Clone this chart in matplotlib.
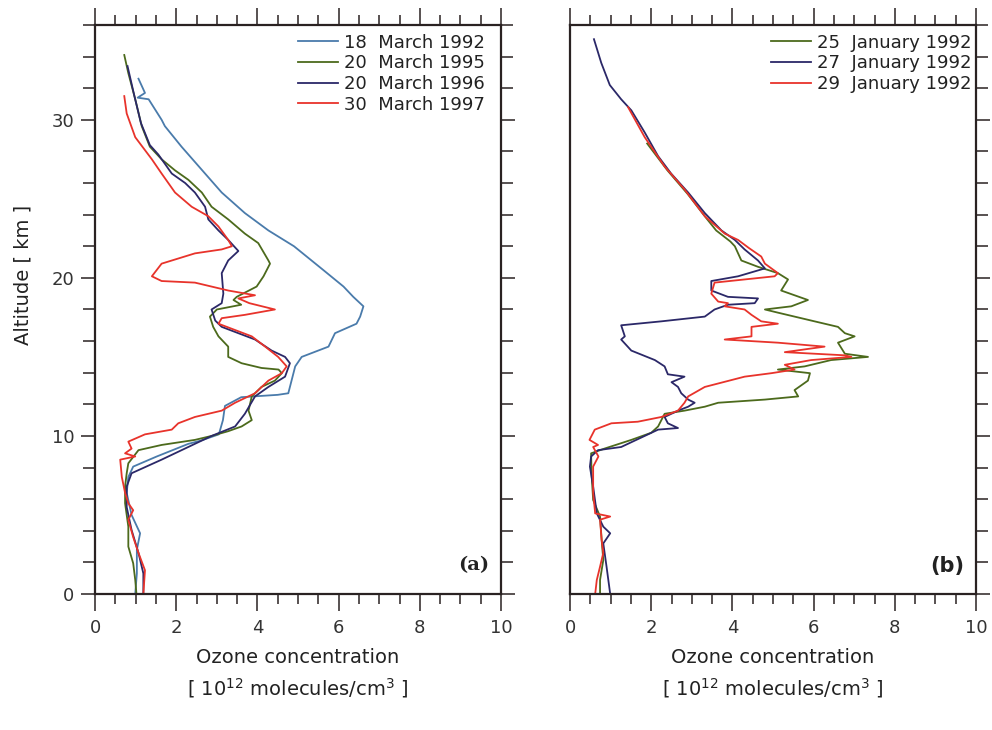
import matplotlib
matplotlib.use("Agg")
import matplotlib.pyplot as plt
from matplotlib.ticker import MultipleLocator

# Ozone profiles, panel (a): March soundings
mar92_o3 = [1.07, 1.23, 1.05, 1.32, 1.64, 1.72, 2.13, 2.71, 3.12, 3.69, 4.27, 4.90, 5.62,
            6.12, 6.36, 6.61, 6.53, 6.44, 5.91, 5.75, 5.09, 4.93, 4.84, 4.76, 4.50, 3.60,
            3.20, 3.15, 3.05, 2.60, 2.30, 1.52, 0.94, 0.82, 0.78, 0.90, 1.11, 1.03, 1.03, 0.99]
mar92_alt = [32.6, 31.7, 31.4, 31.3, 30.0, 29.6, 28.3, 26.6, 25.4, 24.1, 23.0, 22.0, 20.5,
             19.45, 18.8, 18.2, 17.55, 17.1, 16.5, 15.65, 15.0, 14.4, 13.5, 12.7, 12.6, 12.45,
             11.9, 11.0, 10.1, 9.7, 9.5, 8.7, 8.06, 7.4, 6.4, 5.0, 3.84, 2.8, 1.3, 0.0]

mar95_o3 = [0.72, 0.82, 0.99, 1.15, 1.35, 1.64, 1.97, 2.30, 2.63, 2.87, 3.28, 3.69, 4.02,
            4.27, 4.31, 4.15, 3.98, 3.49, 3.41, 3.60, 3.00, 2.83, 2.91, 3.04, 3.28, 3.28,
            3.61, 4.10, 4.52, 4.60, 4.43, 4.10, 3.86, 3.78, 3.86, 3.61, 3.28, 2.87, 2.46,
            1.64, 1.07, 0.82, 0.78, 0.74, 0.74, 0.82, 0.82, 0.94, 0.99, 1.02]
mar95_alt = [34.1, 32.95, 31.3, 29.6, 28.3, 27.5, 26.8, 26.2, 25.4, 24.5, 23.7, 22.8, 22.2,
             21.1, 20.9, 20.1, 19.45, 18.8, 18.6, 18.3, 18.0, 17.55, 16.9, 16.3, 15.65, 15.0,
             14.6, 14.3, 14.2, 13.97, 13.5, 13.1, 12.5, 11.6, 11.0, 10.6, 10.3, 10.0, 9.75,
             9.43, 9.1, 8.27, 7.64, 6.8, 5.74, 4.26, 3.0, 1.94, 0.89, 0.0]

mar96_o3 = [0.80, 0.97, 1.13, 1.35, 1.56, 1.89, 2.22, 2.46, 2.71, 2.79, 3.04, 3.28, 3.53,
            3.28, 3.12, 3.16, 3.12, 2.87, 2.96, 3.12, 3.53, 3.94, 4.35, 4.68, 4.80, 4.68,
            4.27, 3.94, 3.69, 3.45, 2.87, 2.46, 1.64, 0.90, 0.78, 0.78, 0.90, 1.07, 1.19, 1.19]
mar96_alt = [33.4, 31.5, 29.8, 28.4, 27.8, 26.6, 26.0, 25.4, 24.5, 23.7, 23.0, 22.4, 21.7,
             21.1, 20.3, 19.0, 18.4, 18.0, 17.3, 16.9, 16.5, 16.1, 15.4, 15.0, 14.6, 13.75,
             13.1, 12.5, 11.4, 10.6, 10.0, 9.5, 8.5, 7.64, 6.8, 5.5, 4.05, 2.6, 1.3, 0.0]

mar97_o3 = [0.72, 0.78, 0.99, 1.40, 1.64, 1.97, 2.38, 2.79, 3.04, 3.28, 3.37, 3.12, 2.46,
            1.64, 1.40, 1.64, 2.46, 3.28, 3.94, 3.53, 3.80, 4.43, 3.69, 3.12, 3.04, 3.45,
            3.86, 4.19, 4.51, 4.72, 4.60, 4.27, 3.94, 3.45, 3.12, 2.46, 2.05, 1.89, 1.23,
            0.82, 0.90, 0.74, 0.99, 0.62, 0.66, 0.74, 0.82, 0.94, 0.82, 0.94, 1.07, 1.23, 1.19]
mar97_alt = [31.5, 30.4, 28.9, 27.5, 26.6, 25.4, 24.5, 23.9, 23.25, 22.4, 22.0, 21.8, 21.55,
             20.9, 20.1, 19.8, 19.7, 19.2, 18.9, 18.7, 18.4, 18.0, 17.66, 17.45, 17.1, 16.7,
             16.3, 15.65, 15.0, 14.4, 13.97, 13.5, 12.7, 12.1, 11.6, 11.2, 10.8, 10.4, 10.1,
             9.64, 9.2, 8.9, 8.7, 8.5, 7.4, 6.4, 5.74, 5.3, 4.7, 3.6, 2.6, 1.5, 0.0]

# Ozone profiles, panel (b): January 1992 soundings
jan25_o3 = [1.90, 2.40, 2.90, 3.35, 3.60, 3.95, 4.06, 4.22, 4.63, 5.12, 5.37, 5.20, 5.86,
            5.45, 4.80, 5.12, 5.94, 6.60, 6.77, 7.01, 6.60, 6.77, 7.34, 6.43, 5.78, 5.12,
            5.91, 5.86, 5.53, 5.62, 4.80, 3.65, 3.32, 2.82, 2.33, 2.17, 2.00, 1.51, 0.85,
            0.52, 0.53, 0.57, 0.74, 0.78, 0.82, 0.74, 0.74]
jan25_alt = [28.5, 26.8, 25.3, 23.8, 23.0, 22.3, 22.0, 21.1, 20.7, 20.3, 19.9, 19.2, 18.6,
             18.2, 18.0, 17.8, 17.3, 16.9, 16.5, 16.3, 15.9, 15.2, 15.0, 14.8, 14.4, 14.2,
             13.97, 13.5, 12.9, 12.5, 12.3, 12.1, 11.85, 11.6, 11.4, 10.6, 10.2, 9.75, 9.2,
             8.9, 7.64, 5.95, 4.9, 3.4, 2.15, 0.89, 0.0]

jan27_o3 = [0.59, 0.77, 0.98, 1.26, 1.51, 1.84, 2.17, 2.49, 2.91, 3.32, 3.73, 4.06, 4.30,
            4.63, 4.80, 4.14, 3.48, 3.48, 3.89, 4.63, 4.55, 3.89, 3.56, 3.32, 2.25, 1.26,
            1.35, 1.26, 1.51, 2.09, 2.33, 2.41, 2.82, 2.50, 2.66, 2.74, 2.91, 3.07, 2.91,
            2.66, 2.33, 2.41, 2.66, 2.17, 1.84, 1.26, 0.69, 0.52, 0.49, 0.57, 0.66, 0.82,
            0.99, 0.82, 0.90, 0.99]
jan27_alt = [35.1, 33.6, 32.2, 31.3, 30.6, 29.2, 27.7, 26.6, 25.4, 24.1, 23.0, 22.4, 21.8,
             21.1, 20.6, 20.1, 19.8, 19.2, 18.8, 18.7, 18.4, 18.3, 18.0, 17.55, 17.25, 17.0,
             16.3, 16.1, 15.4, 14.8, 14.4, 13.9, 13.75, 13.4, 13.1, 12.7, 12.3, 12.1, 11.85,
             11.6, 11.2, 10.8, 10.5, 10.4, 10.0, 9.3, 9.1, 8.7, 8.06, 6.8, 5.1, 4.26,
             3.84, 3.2, 1.73, 0.0]

jan29_o3 = [1.43, 1.84, 2.33, 2.82, 3.32, 3.81, 4.14, 4.40, 4.71, 4.80, 5.12, 5.04, 4.30,
            3.56, 3.48, 3.65, 3.89, 3.81, 4.30, 4.47, 4.71, 5.12, 4.47, 4.47, 3.81, 5.12,
            6.27, 5.29, 6.77, 6.93, 5.94, 5.29, 5.53, 4.96, 4.30, 3.32, 2.91, 2.82, 2.66,
            2.25, 1.67, 1.02, 0.61, 0.48, 0.69, 0.57, 0.70, 0.57, 0.57, 0.62, 0.99, 0.74,
            0.78, 0.82, 0.74, 0.66, 0.62]
jan29_alt = [30.8, 28.9, 27.05, 25.6, 23.9, 22.8, 22.4, 21.9, 21.35, 20.9, 20.3, 20.1, 19.9,
             19.7, 19.0, 18.5, 18.4, 18.2, 18.0, 17.66, 17.25, 17.1, 16.9, 16.3, 16.1, 15.9,
             15.65, 15.3, 15.1, 15.0, 14.8, 14.5, 14.2, 13.97, 13.75, 13.1, 12.5, 12.1, 11.6,
             11.2, 10.9, 10.8, 10.4, 9.75, 9.43, 9.3, 8.7, 8.06, 6.4, 5.1, 4.9, 4.7,
             3.4, 2.6, 1.73, 0.89, 0.0]

labels_a = ["18  March 1992", "20  March 1995", "20  March 1996", "30  March 1997"]
labels_b = ["25  January 1992", "27  January 1992", "29  January 1992"]

BLUE = "#4a7bab"
GREEN = "#4c6a1c"
NAVY = "#2b2868"
RED = "#e8332b"
INK = "#2a2222"

plt.rcParams["font.family"] = "DejaVu Sans"
plt.rcParams["mathtext.fontset"] = "dejavusans"

fig = plt.figure(figsize=(9.92, 7.30), dpi=100)
ax_a = fig.add_axes([0.0958, 0.1863, 0.4093, 0.7795])
ax_b = fig.add_axes([0.5746, 0.1863, 0.4093, 0.7795])


def style_axes(ax, left_labels):
    ax.set_xlim(0, 10)
    ax.set_ylim(0, 36)
    for sp in ax.spines.values():
        sp.set_linewidth(1.6)
        sp.set_color(INK)
    ax.xaxis.set_major_locator(MultipleLocator(2))
    ax.xaxis.set_minor_locator(MultipleLocator(0.5))
    ax.yaxis.set_major_locator(MultipleLocator(10))
    ax.yaxis.set_minor_locator(MultipleLocator(2))
    ax.tick_params(axis="x", which="both", direction="out", top=True, bottom=True,
                   color=INK, width=1.1, labelsize=13, labelcolor="#333333", pad=6)
    ax.tick_params(axis="x", which="major", length=12)
    ax.tick_params(axis="x", which="minor", length=7.5)
    ax.tick_params(axis="y", which="both", direction="out", left=left_labels, right=True,
                   labelleft=left_labels, color=INK, width=1.1, labelsize=13,
                   labelcolor="#333333", pad=5)
    ax.tick_params(axis="y", which="major", length=10)
    ax.tick_params(axis="y", which="minor", length=8.5)
    ax.set_xticks([0, 2, 4, 6, 8, 10])
    ax.set_xticklabels(["0", "2", "4", "6", "8", "10"])
    ax.set_xlabel("Ozone concentration\n[ 10$^{12}$ molecules/cm$^3$ ]",
                  fontsize=14, color="#222222", linespacing=1.45, labelpad=8)


style_axes(ax_a, True)
style_axes(ax_b, False)
ax_a.set_ylabel("Altitude [ km ]", fontsize=14, color="#222222")
ax_a.yaxis.set_label_coords(-0.155, 0.56)

lw = 1.3
ax_a.plot(mar92_o3, mar92_alt, color=BLUE, lw=lw, label=labels_a[0])
ax_a.plot(mar95_o3, mar95_alt, color=GREEN, lw=lw, label=labels_a[1])
ax_a.plot(mar96_o3, mar96_alt, color=NAVY, lw=lw, label=labels_a[2])
ax_a.plot(mar97_o3, mar97_alt, color=RED, lw=lw, label=labels_a[3])

ax_b.plot(jan25_o3, jan25_alt, color=GREEN, lw=lw, label=labels_b[0])
ax_b.plot(jan27_o3, jan27_alt, color=NAVY, lw=lw, label=labels_b[1])
ax_b.plot(jan29_o3, jan29_alt, color=RED, lw=lw, label=labels_b[2])

for ax, x_anchor in ((ax_a, 0.96), (ax_b, 0.99)):
    leg = ax.legend(loc="upper right", bbox_to_anchor=(x_anchor, 0.985), frameon=False,
                    fontsize=13, handlelength=2.2, handletextpad=0.35,
                    labelspacing=0.15, borderaxespad=0, borderpad=0)
    for t in leg.get_texts():
        t.set_color("#222222")

ax_a.text(0.972, 0.05, "(a)", transform=ax_a.transAxes, ha="right", va="center",
          fontsize=14, fontweight="bold", family="DejaVu Serif", color="#222222")
ax_b.text(0.972, 0.05, "(b)", transform=ax_b.transAxes, ha="right", va="center",
          fontsize=15, fontweight="bold", color="#222222")

fig.savefig("out.png", dpi=100)
